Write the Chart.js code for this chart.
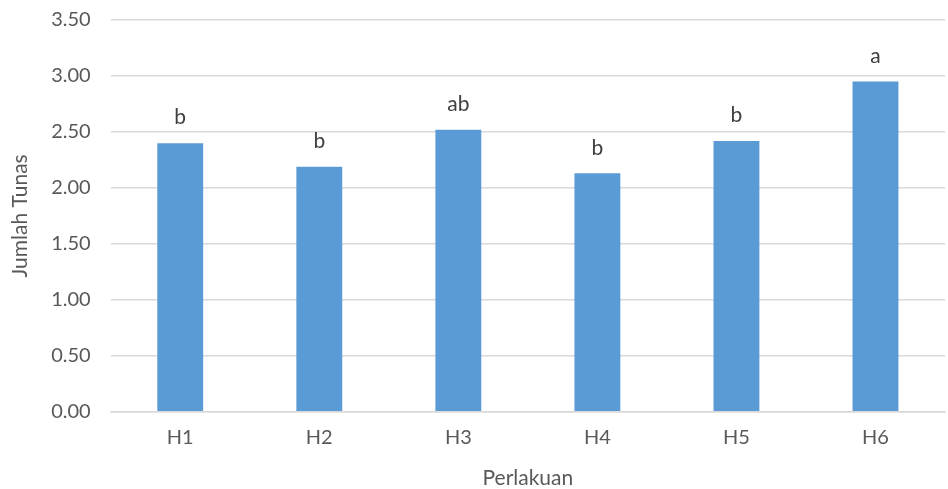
<!DOCTYPE html>
<html>
<head>
<meta charset="utf-8">
<script src="https://cdn.jsdelivr.net/npm/chart.js@4/dist/chart.umd.min.js"></script>
<style>
  html, body { margin: 0; padding: 0; background: #fff; }
  #wrap { width: 948px; height: 489px; }
</style>
</head>
<body>
<div id="wrap"><canvas id="tunasChart" width="948" height="489"></canvas></div>
<script>
const categories = ['H1', 'H2', 'H3', 'H4', 'H5', 'H6'];
const jumlahTunas = [2.40, 2.19, 2.52, 2.13, 2.42, 2.95];
const notasi = ['b', 'b', 'ab', 'b', 'b', 'a'];

const FONT = 'Lato, "Open Sans", sans-serif';

// draw the significance letters above each bar
const letterPlugin = {
    id: 'letters',
    afterDatasetsDraw(chart) {
        const ctx = chart.ctx;
        const meta = chart.getDatasetMeta(0);
        ctx.save();
        ctx.fillStyle = '#404040';
        ctx.font = '21px ' + FONT;
        ctx.textAlign = 'center';
        ctx.textBaseline = 'bottom';
        meta.data.forEach((bar, i) => {
            ctx.fillText(notasi[i], bar.x, bar.y - 15);
        });
        ctx.restore();
    }
};

new Chart(document.getElementById('tunasChart').getContext('2d'), {
    type: 'bar',
    data: {
        labels: categories,
        datasets: [{
            label: 'Jumlah Tunas',
            data: jumlahTunas,
            backgroundColor: '#5b9bd5',
            borderWidth: 0,
            categoryPercentage: 0.33,
            barPercentage: 1.0,
        }],
    },
    options: {
        responsive: false,
        animation: false,
        layout: { padding: { top: 20, right: 3, left: 8, bottom: -2 } },
        plugins: {
            legend: { display: false },
            tooltip: { enabled: false },
        },
        scales: {
            x: {
                grid: { display: false },
                border: { color: '#d9d9d9', width: 1.5 },
                ticks: { color: '#595959', font: { family: FONT, size: 20 }, padding: 6 },
                title: {
                    display: true,
                    text: 'Perlakuan',
                    color: '#595959',
                    font: { family: FONT, size: 21 },
                    padding: { top: 10, bottom: 0 },
                },
            },
            y: {
                min: 0,
                max: 3.5,
                ticks: {
                    stepSize: 0.5,
                    color: '#595959',
                    font: { family: FONT, size: 20 },
                    padding: 0,
                    callback: v => v.toFixed(2),
                },
                // invisible tick marks give the gap between labels and plot
                grid: { color: '#d9d9d9', lineWidth: 1.5, drawTicks: true, tickLength: 20, tickColor: 'rgba(0,0,0,0)' },
                border: { display: false },
                title: {
                    display: true,
                    text: 'Jumlah Tunas',
                    color: '#595959',
                    font: { family: FONT, size: 21 },
                    padding: { top: 0, bottom: 18 },
                },
            },
        },
    },
    plugins: [letterPlugin],
});
</script>
</body>
</html>
